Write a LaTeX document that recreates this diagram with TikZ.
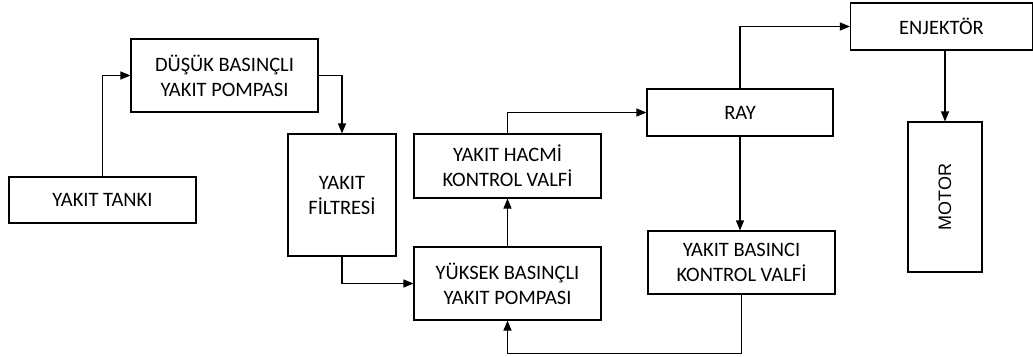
\documentclass[tikz,border=0pt]{standalone}
\usepackage{fontspec}
\setmainfont{Carlito}
\newfontfamily\arialfont{Liberation Sans}
\usetikzlibrary{arrows.meta,positioning}

\begin{document}
\begin{tikzpicture}[
  x=1pt,y=-1pt,
  >={Triangle[length=10pt,width=8pt]},
  box/.style={draw,line width=1.1pt,align=center,inner sep=0pt,
    font=\fontsize{20.5}{25}\selectfont},
  flow/.style={->,line width=1.1pt}
]
  \useasboundingbox (0,0) rectangle (1033,356);
  \node[box,minimum width=187pt,minimum height=46pt] (tank) at (102.5,200) {YAKIT TANKI};
  \node[box,minimum width=187pt,minimum height=73pt] (lowpump) at (224.5,75.5)
    {DÜŞÜK BASINÇLI\\YAKIT POMPASI};
  \node[box,minimum width=108pt,minimum height=122pt] (filter) at (342,195)
    {YAKIT\\FİLTRESİ};
  \node[box,minimum width=187pt,minimum height=64pt] (volvalve) at (507.5,166)
    {YAKIT HACMİ\\KONTROL VALFİ};
  \node[box,minimum width=187pt,minimum height=73pt] (hipump) at (507.5,283.5)
    {YÜKSEK BASINÇLI\\YAKIT POMPASI};
  \node[box,minimum width=186pt,minimum height=47pt] (rail) at (740,112.5) {RAY};
  \node[box,minimum width=187pt,minimum height=63pt] (presvalve) at (741.5,262.5)
    {YAKIT BASINCI\\KONTROL VALFİ};
  \node[box,minimum width=182pt,minimum height=47pt] (injector) at (941.5,26.5) {ENJEKTÖR};
  \node[box,minimum width=74pt,minimum height=150pt] (motor) at (945,197) {};
  \node[rotate=90,font=\arialfont\fontsize{18}{20}\selectfont] (motorlabel) at (motor.center) {MOTOR};

  \draw[flow] (tank.north) |- (lowpump.west);
  \draw[flow] (lowpump.east) -| (filter.north);
  \draw[flow] (filter.south) |- (hipump.west);
  \draw[flow] (hipump.north) -- (volvalve.south);
  \draw[flow] (volvalve.north) |- (rail.west);
  \draw[flow] (rail.north) |- (injector.west);
  \draw[flow] (rail.south) -- (rail.south |- presvalve.north);
  \draw[flow] (injector.south -| motor.north) -- (motor.north);
  \draw[flow] (presvalve.south) -- ++(0,59) -| (hipump.south);
\end{tikzpicture}
\end{document}
